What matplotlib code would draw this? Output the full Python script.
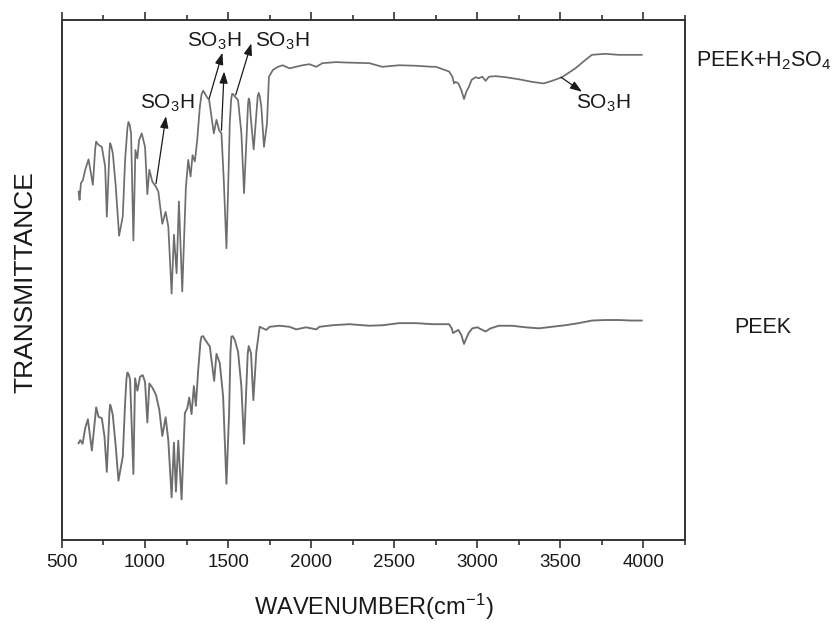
import matplotlib
matplotlib.use("Agg")
import matplotlib.pyplot as plt
from matplotlib.ticker import MultipleLocator

plt.rcParams["font.family"] = ["Liberation Sans", "DejaVu Sans"]
plt.rcParams["mathtext.fontset"] = "custom"
plt.rcParams["mathtext.rm"] = "Liberation Sans"
plt.rcParams["mathtext.it"] = "Liberation Sans:italic"
plt.rcParams["mathtext.bf"] = "Liberation Sans:bold"

# FTIR spectra, wavenumber (cm-1) vs transmittance (arbitrary units, offset)
wn_sulf = [600, 606, 614, 626, 640, 660, 686, 700, 706, 712, 720, 740, 760, 770,
           786, 790, 796, 806, 824, 844, 866, 880, 894, 900, 908, 916, 930, 942,
           954, 964, 980, 1000, 1014, 1026, 1044, 1066, 1080, 1104, 1124, 1140,
           1160, 1174, 1190, 1204, 1224, 1246, 1260, 1274, 1286, 1300, 1314,
           1330, 1340, 1350, 1360, 1370, 1386, 1400, 1414, 1430, 1446, 1460,
           1474, 1490, 1500, 1510, 1518, 1524, 1532, 1540, 1560, 1580, 1596,
           1610, 1620, 1624, 1630, 1636, 1654, 1666, 1678, 1684, 1690, 1700,
           1716, 1734, 1746, 1770, 1800, 1828, 1870, 1910, 1948, 1990, 2030,
           2068, 2150, 2230, 2350, 2428, 2530, 2630, 2728, 2750, 2830, 2850,
           2860, 2870, 2886, 2904, 2920, 2934, 2950, 2966, 2990, 3010, 3030,
           3050, 3070, 3110, 3170, 3250, 3330, 3400, 3450, 3510, 3590, 3650,
           3690, 3770, 3850, 3930, 3990]
t_sulf = [67.0, 65.4, 68.6, 69.2, 71.2, 73.2, 68.3, 75.2, 76.6, 76.3, 76.0, 75.6,
          71.8, 62.2, 75.0, 76.3, 75.8, 74.4, 67.9, 58.5, 62.2, 73.1, 79.2, 80.4,
          79.8, 78.2, 57.6, 75.0, 73.4, 76.9, 78.2, 75.6, 66.5, 71.2, 68.9, 67.9,
          67.0, 60.8, 63.1, 60.3, 47.4, 58.7, 51.3, 65.1, 47.8, 67.9, 73.1, 69.9,
          74.0, 72.8, 76.9, 83.3, 85.7, 86.4, 85.9, 85.3, 84.6, 81.4, 78.2, 80.8,
          78.8, 78.2, 69.2, 56.1, 67.3, 80.1, 84.6, 85.8, 85.7, 85.3, 84.6, 78.2,
          66.7, 76.9, 83.8, 84.9, 84.3, 81.4, 75.1, 80.1, 85.3, 86.0, 85.4, 83.3,
          75.6, 80.1, 89.1, 90.4, 91.0, 91.3, 90.7, 91.0, 91.3, 91.5, 91.0, 91.7,
          91.9, 91.8, 91.7, 91.0, 91.3, 91.2, 91.0, 91.0, 90.1, 89.1, 87.8, 88.1,
          87.8, 86.5, 84.8, 86.2, 87.2, 88.5, 89.0, 88.8, 89.1, 88.3, 89.1, 89.2,
          89.0, 88.6, 88.1, 87.8, 88.3, 89.0, 90.7, 92.3, 93.3, 93.5, 93.3, 93.3,
          93.3]

wn_peek = [600, 610, 624, 640, 656, 680, 706, 720, 740, 756, 770, 786, 790, 796,
           806, 824, 840, 866, 880, 888, 894, 902, 910, 930, 940, 954, 970, 986,
           1000, 1014, 1026, 1046, 1066, 1086, 1104, 1124, 1140, 1160, 1174,
           1186, 1200, 1220, 1240, 1254, 1266, 1280, 1294, 1306, 1320, 1334,
           1340, 1350, 1360, 1390, 1416, 1430, 1450, 1470, 1490, 1506, 1514,
           1520, 1528, 1540, 1560, 1580, 1596, 1610, 1618, 1624, 1638, 1652,
           1670, 1690, 1710, 1730, 1750, 1810, 1870, 1910, 1970, 2030, 2050,
           2130, 2230, 2350, 2430, 2530, 2630, 2730, 2830, 2846, 2854, 2870,
           2886, 2904, 2920, 2934, 2950, 2970, 3000, 3030, 3050, 3080, 3130,
           3210, 3290, 3370, 3450, 3530, 3610, 3690, 3770, 3850, 3930, 3990]
t_peek = [18.6, 19.2, 18.5, 21.5, 23.2, 17.2, 25.5, 23.7, 23.4, 19.9, 13.1, 24.8,
          26.0, 25.5, 24.0, 17.9, 11.4, 16.0, 26.3, 30.9, 32.2, 31.8, 30.8, 12.7,
          31.1, 28.7, 31.4, 31.7, 30.4, 22.6, 30.1, 29.2, 27.9, 25.0, 20.0, 23.6,
          19.2, 8.2, 18.7, 9.3, 19.1, 7.8, 24.4, 25.3, 27.4, 24.2, 29.6, 25.8,
          32.7, 38.2, 39.1, 39.2, 38.6, 37.2, 30.6, 35.8, 34.0, 27.6, 10.8, 24.4,
          36.0, 39.1, 39.2, 38.5, 36.2, 29.5, 18.5, 29.5, 35.8, 37.3, 35.9, 26.9,
          36.2, 41.0, 40.7, 40.4, 41.0, 41.2, 41.0, 40.5, 40.9, 40.5, 41.0, 41.3,
          41.5, 41.2, 41.3, 41.7, 41.7, 41.5, 41.5, 40.7, 39.8, 40.1, 40.4, 39.4,
          37.7, 38.8, 39.9, 40.7, 40.9, 40.4, 40.1, 40.7, 41.2, 41.2, 40.9, 40.7,
          41.0, 41.3, 41.7, 42.2, 42.3, 42.3, 42.2, 42.2]

# SO3H band markers: (arrow tail on curve, arrow head, label position or None)
so3h_marks = [
    ((1066, 68.5), (1126, 81.5), (1135, 84.0)),
    ((1386, 84.9), (1466, 93.7), (1416, 95.9)),
    ((1460, 78.8), (1476, 90.1), None),
    ((1546, 85.6), (1640, 95.5), (1828, 95.9)),
    ((3504, 89.0), (3630, 86.2), (3760, 84.0)),
]

line_col = "#6e6e6e"
ink = "#1a1a1a"

fig = plt.figure(figsize=(8.34, 6.27), dpi=100)
ax = fig.add_axes([0.0743, 0.1388, 0.7470, 0.8293])

ax.plot(wn_sulf, t_sulf, color=line_col, lw=1.25, solid_joinstyle="round")
ax.plot(wn_peek, t_peek, color=line_col, lw=1.35, solid_joinstyle="round")

for tail, head, lab in so3h_marks:
    ax.annotate("", xy=head, xytext=tail,
                arrowprops=dict(arrowstyle="-|>,head_length=0.7,head_width=0.25",
                                color=ink, lw=0.9, shrinkA=0, shrinkB=0))
    if lab is not None:
        ax.text(lab[0], lab[1], r"SO$_3$H", ha="center", va="center",
                fontsize=15, color=ink)

ax.set_xlim(500, 4250)
ax.set_ylim(0, 100)
ax.xaxis.set_major_locator(MultipleLocator(500))
ax.xaxis.set_minor_locator(MultipleLocator(250))
ax.set_yticks([])
ax.tick_params(axis="x", which="both", direction="out", top=True,
               labeltop=False, colors="#333333", labelcolor=ink, labelsize=13.5,
               pad=4)
ax.tick_params(axis="x", which="major", length=6, width=1.2)
ax.tick_params(axis="x", which="minor", length=3.6, width=1.2)
for sp in ax.spines.values():
    sp.set_color("#333333")
    sp.set_linewidth(1.4)

fig.text(0.448, 0.032, r"WAVENUMBER(cm$^{-1}$)", ha="center", va="center",
         fontsize=17, color=ink)
fig.text(0.030, 0.55, "TRANSMITTANCE", ha="center", va="center",
         rotation=90, fontsize=19, color=ink)
fig.text(0.916, 0.903, r"PEEK+H$_2$SO$_4$", ha="center", va="center",
         fontsize=15.5, color=ink)
fig.text(0.915, 0.477, "PEEK", ha="center", va="center",
         fontsize=15.5, color=ink)

fig.savefig("out.png", dpi=100)
